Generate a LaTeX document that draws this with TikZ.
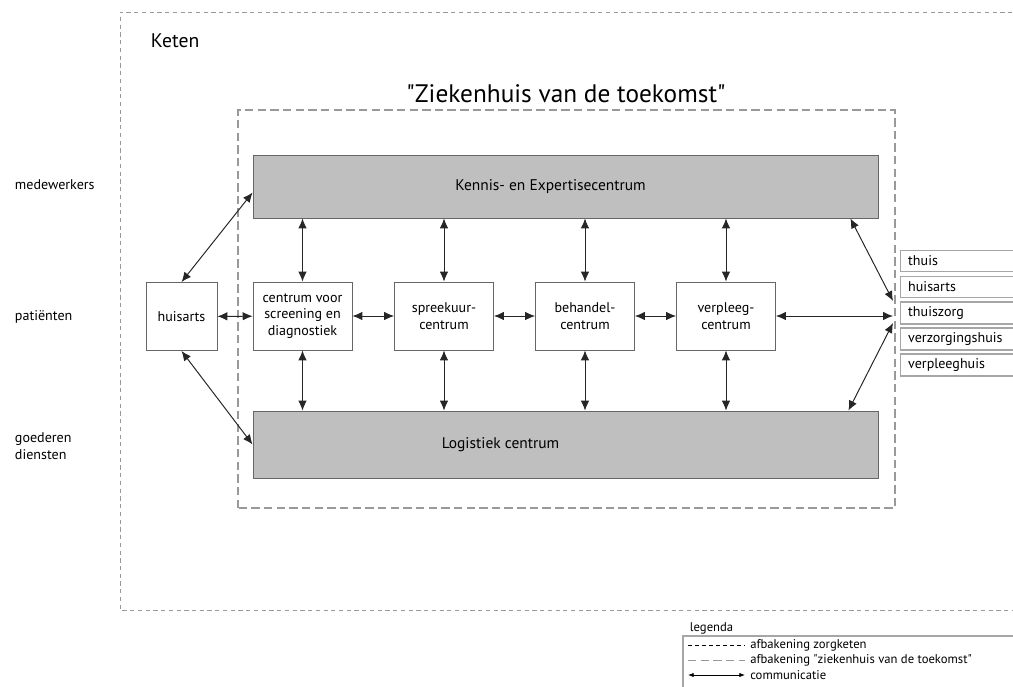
\documentclass[tikz,border=0pt]{standalone}
\usepackage{fontspec}
\setmainfont{PT Sans}[Ligatures=TeXOff]
\usetikzlibrary{arrows.meta, calc, positioning}

\tikzset{
  box/.style={draw=gray!80!black, fill=white, line width=0.6pt, minimum width=99*0.025cm, minimum height=68*0.025cm, align=center, inner sep=1pt, font=\fontsize{10}{12}\selectfont},
  greybox/.style={draw=gray!80!black, fill=gray!50, line width=0.6pt, minimum width=625*0.025cm, minimum height=63*0.025cm, font=\fontsize{11}{13}\selectfont},
  listbox/.style={draw=gray!70, line width=1pt, fill=white, anchor=west, minimum width=125*0.025cm, minimum height=21*0.025cm, text width=110*0.025cm, align=left, inner xsep=3pt, font=\fontsize{10}{12}\selectfont},
  comm/.style={{Latex[length=7pt,width=6pt]}-{Latex[length=7pt,width=6pt]}, line width=0.7pt, black!85},
  keten/.style={gray!80, line width=0.7pt, dash pattern=on 3pt off 2.5pt},
  zkh/.style={gray!80, line width=0.8pt, dash pattern=on 6pt off 3pt},
  sidelabel/.style={anchor=west, align=left, font=\fontsize{10}{12}\selectfont},
  legtext/.style={anchor=west, inner sep=0pt, xshift=5*0.025cm, font=\fontsize{9}{10}\selectfont}
}

\begin{document}
\begin{tikzpicture}[x=0.025cm, y=-0.025cm]
  \useasboundingbox (0,0) rectangle (1013,686);

  % afbakening zorgketen
  \draw[keten] (1020,12) -- (120,12) -- (120,610) -- (1020,610);
  \node[anchor=west, font=\fontsize{14}{16}\selectfont] (keten) at (146,41) {Keten};

  % afbakening ziekenhuis
  \draw[zkh] (238,508) rectangle (895,110);
  \node[font=\fontsize{18}{20}\selectfont] (titel) at (566,94) {"Ziekenhuis van de toekomst"};

  % links
  \node[sidelabel] (medew) at (10,185) {medewerkers};
  \node[sidelabel] (patient) at (10,317) {patiënten};
  \node[sidelabel] (goed) at (10,446) {goederen\\diensten};

  % centra
  \node[greybox, label={[xshift=-15*0.025cm, font=\fontsize{11}{13}\selectfont]center:Kennis- en Expertisecentrum}] (ken) at (565.5,186.5) {};
  \node[greybox, minimum height=67*0.025cm, label={[xshift=-65*0.025cm, font=\fontsize{11}{13}\selectfont]center:Logistiek centrum}] (log) at (565.5,444.5) {};

  \node[box, minimum width=71*0.025cm] (huis) at (181.5,316.5) {huisarts};
  \node[box] (scr) at (302.5,316) {centrum voor\\screening en\\diagnostiek};
  \node[box] (spr) at (444,316) {spreekuur-\\centrum};
  \node[box] (beh) at (585,316) {behandel-\\centrum};
  \node[box] (vpl) at (726,316) {verpleeg-\\centrum};

  % rechts
  \node[listbox] (thuis) at (900,261) {thuis};
  \node[listbox] (rhuis) at (900,287) {huisarts};
  \node[listbox] (tzorg) at (900,313) {thuiszorg};
  \node[listbox] (vzhuis) at (900,339) {verzorgingshuis};
  \node[listbox] (vphuis) at (900,365) {verpleeghuis};

  \coordinate (r1) at (893,301);
  \coordinate (r2) at (893,316);
  \coordinate (r3) at (893,323);

  % communicatie
  \draw[comm] (huis.north) -- ($(ken.west)+(0,6)$);
  \draw[comm] (huis.south) -- (log.west);
  \draw[comm] (huis) -- (scr);
  \draw[comm] (scr) -- (spr);
  \draw[comm] (spr) -- (beh);
  \draw[comm] (beh) -- (vpl);
  \draw[comm] (vpl) -- (r2);
  \draw[comm] ($(ken.south east)+(-28,0)$) -- (r1);
  \draw[comm] ($(log.north east)+(-30,0)$) -- (r3);
  \foreach \c in {scr, spr, beh, vpl} {
    \draw[comm] (\c.north |- ken.south) -- (\c.north);
    \draw[comm] (\c.south) -- (\c.south |- log.north);
  }

  % legenda
  \node[anchor=west, font=\fontsize{9}{11}\selectfont] (legenda) at (685,628) {legenda};
  \draw[gray!70, line width=0.8pt] (683,690) -- (683,636) -- (1020,636);
  \coordinate (l1a) at (688,645); \coordinate (l1b) at (745,645);
  \coordinate (l2a) at (688,660); \coordinate (l2b) at (745,660);
  \coordinate (l3a) at (688,675); \coordinate (l3b) at (745,675);
  \draw[black, line width=0.5pt, dash pattern=on 3pt off 2pt] (l1a) -- (l1b);
  \draw[gray!80, line width=0.7pt, dash pattern=on 6pt off 3pt] (l2a) -- (l2b);
  \draw[{Latex[length=4pt,width=3pt]}-{Latex[length=4pt,width=3pt]}, line width=0.5pt] (l3a) -- (l3b);
  \node[legtext] (leg1) at (l1b) {afbakening zorgketen};
  \node[legtext] (leg2) at (l2b) {afbakening "ziekenhuis van de toekomst"};
  \node[legtext] (leg3) at (l3b) {communicatie};
\end{tikzpicture}
\end{document}
